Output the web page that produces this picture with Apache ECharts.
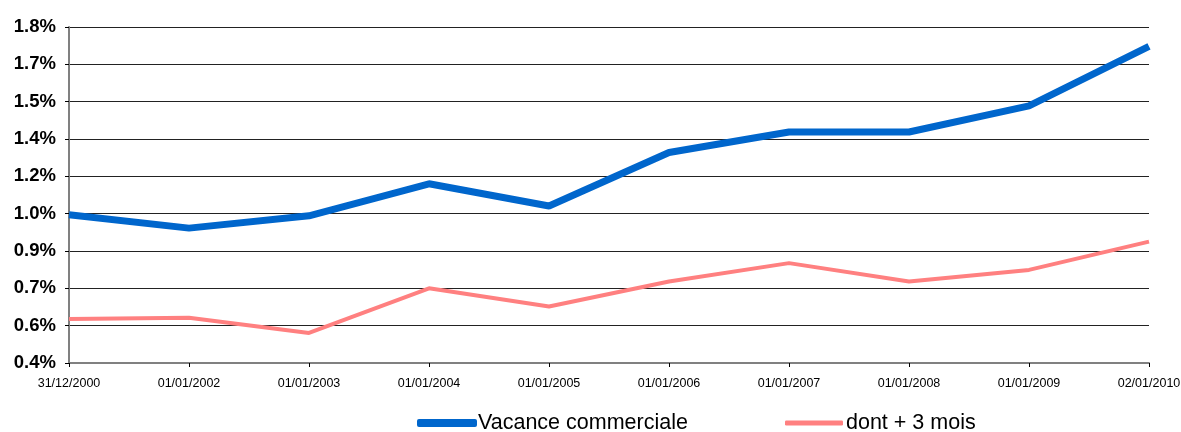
<!DOCTYPE html>
<html>
<head>
<meta charset="utf-8">
<script src="https://cdn.jsdelivr.net/npm/echarts@6/dist/echarts.min.js"></script>
<style>html,body{margin:0;padding:0;background:#fff}#c{width:1181px;height:432px}</style>
</head>
<body>
<div id="c"></div>
<script>
const categories = ['31/12/2000','01/01/2002','01/01/2003','01/01/2004','01/01/2005','01/01/2006','01/01/2007','01/01/2008','01/01/2009','02/01/2010'];
const vacance = [1.035, 0.978, 1.031, 1.168, 1.073, 1.302, 1.390, 1.390, 1.502, 1.757];
const plus3mois = [0.589, 0.594, 0.529, 0.720, 0.642, 0.749, 0.828, 0.749, 0.799, 0.920];
const seriesNames = ['Vacance commerciale', 'dont + 3 mois'];
const yMin = 0.4, yMax = 1.84, yStep = 0.16;

const chart = echarts.init(document.getElementById('c'));
chart.setOption({
  animation: false,
  textStyle: { fontFamily: 'Liberation Sans, Arial, sans-serif' },
  grid: { left: 69, right: 32, top: 27, bottom: 69, containLabel: false, outerBoundsMode: 'none' },
  legend: [
    { data: [seriesNames[0]], left: 417, top: 412, padding: 0, itemWidth: 60, itemHeight: 8, itemGap: 4, icon: 'roundRect',
      textStyle: { fontSize: 21.5, color: '#000', padding: [0,0,0,-4] } },
    { data: [seriesNames[1]], left: 785, top: 412, padding: 0, itemWidth: 58, itemHeight: 5, icon: 'roundRect',
      textStyle: { fontSize: 21.5, color: '#000', padding: [0,0,0,-2] } }
  ],
  xAxis: {
    type: 'category', data: categories, boundaryGap: false,
    axisLine: { lineStyle: { color: '#808080', width: 2 } },
    axisTick: { show: true, alignWithLabel: true, length: 4, lineStyle: { color: '#000' } },
    axisLabel: { color: '#000', fontSize: 12.5, margin: 14, interval: 0 },
    splitLine: { show: false }
  },
  yAxis: {
    type: 'value', min: yMin, max: yMax, interval: yStep,
    axisLine: { show: true, lineStyle: { color: '#808080', width: 2 } },
    axisTick: { show: true, length: 4, lineStyle: { color: '#000' } },
    axisLabel: { color: '#000', fontSize: 18.5, fontWeight: 'bold', margin: 13,
      formatter: v => v.toFixed(1) + '%' },
    splitLine: { show: true, lineStyle: { color: '#222', width: 1 } }
  },
  series: [
    { name: seriesNames[0], type: 'line', data: vacance, symbol: 'none',
      lineStyle: { color: '#0066CC', width: 7 }, itemStyle: { color: '#0066CC' }, z: 3 },
    { name: seriesNames[1], type: 'line', data: plus3mois, symbol: 'none',
      lineStyle: { color: '#FF8080', width: 4 }, itemStyle: { color: '#FF8080' }, z: 2 }
  ]
});
</script>
</body>
</html>
